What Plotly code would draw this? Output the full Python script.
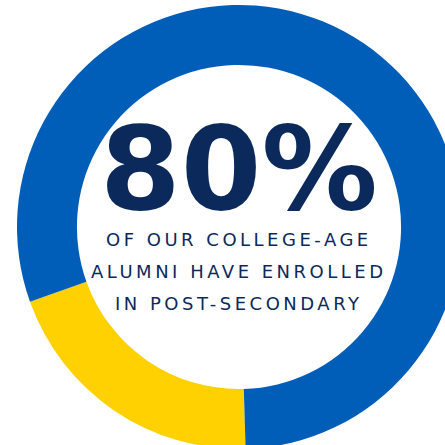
import plotly.graph_objects as go

# Data
labels = ["Not enrolled", "Enrolled in post-secondary"]
values = [20, 80]
colors = ["#FFD100", "#005EB8"]
headline = "80%"
sub_lines = ["OF OUR COLLEGE-AGE", "ALUMNI HAVE ENROLLED", "IN POST-SECONDARY"]

W, H = 478, 460
cx, cy, R = 239, 227, 222

fig = go.Figure(go.Pie(
    labels=labels, values=values, sort=False, direction="clockwise",
    rotation=178.3, hole=0.73, textinfo="none", hoverinfo="label+percent",
    marker=dict(colors=colors, line=dict(width=0)),
    domain=dict(x=[(cx - R) / W, (cx + R) / W], y=[1 - (cy + R) / H, 1 - (cy - R) / H]),
    showlegend=False,
))

navy = "#0B2A5B"
fig.add_annotation(text=headline, x=cx / W, y=1 - 168 / H, xref="paper", yref="paper",
                   showarrow=False, xanchor="center", yanchor="middle",
                   font=dict(family="DejaVu Sans", size=116, color=navy, weight="bold"))
for i, line in enumerate(sub_lines):
    fig.add_annotation(text=f'<span style="letter-spacing:3.5px">{line}</span>',
                       x=cx / W, y=1 - (239 + 32 * i) / H, xref="paper", yref="paper",
                       showarrow=False, xanchor="center", yanchor="middle",
                       font=dict(family="DejaVu Sans", size=18, color=navy))

fig.update_layout(width=W, height=H, margin=dict(l=0, r=0, t=0, b=0),
                  paper_bgcolor="white", plot_bgcolor="white")
fig.write_html("out.html", config={"displayModeBar": False},
               post_script="document.body.style.margin='0';"
                           "document.documentElement.style.overflow='hidden';"
                           "document.body.style.overflow='hidden';")
